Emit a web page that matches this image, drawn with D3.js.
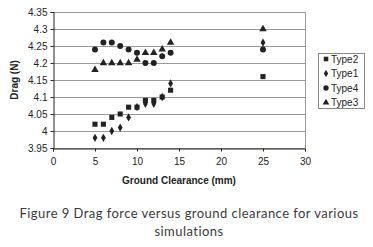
<!DOCTYPE html>
<html lang="en">
<head>
  <meta charset="UTF-8">
  <title>Drag force versus ground clearance</title>
  <style>
    body { margin: 0; background: #fff; }
    svg { display: block; }
    .tick text { font-family: Arial, "Liberation Sans", sans-serif; font-size: 10px; fill: #222; }
    .title { font-family: Arial, "Liberation Sans", sans-serif; font-size: 10px; font-weight: bold; fill: #222; }
    .legend text { font-family: Arial, "Liberation Sans", sans-serif; font-size: 10px; fill: #222; }
    .caption { font-family: Lato, sans-serif; font-size: 13px; letter-spacing: 0.45px; fill: #3a3a3a; }
  </style>
</head>
<body>
  <svg id="chart" width="373" height="247"></svg>
  <script src="https://d3js.org/d3.v7.min.js"></script>
  <script>
    const clearance = [5, 6, 7, 8, 9, 10, 11, 12, 13, 14, 25]
    const type2 = [4.02, 4.02, 4.04, 4.05, 4.07, 4.07, 4.09, 4.09, 4.10, 4.12, 4.16]
    const type1 = [3.98, 3.98, 4.00, 4.01, 4.04, 4.07, 4.08, 4.08, 4.10, 4.14, 4.26]
    const type4 = [4.24, 4.26, 4.26, 4.25, 4.24, 4.23, 4.20, 4.20, 4.22, 4.23, 4.24]
    const type3 = [4.18, 4.20, 4.20, 4.20, 4.20, 4.21, 4.23, 4.23, 4.24, 4.26, 4.30]
    const xTicks = [0, 5, 10, 15, 20, 25, 30]
    const yTicks = [3.95, 4, 4.05, 4.1, 4.15, 4.2, 4.25, 4.3, 4.35]

    const series = [
      { name: 'Type2', values: type2, symbol: d3.symbolSquare, size: 26 },
      { name: 'Type1', values: type1, symbol: d3.symbolDiamond, size: 20 },
      { name: 'Type4', values: type4, symbol: d3.symbolCircle, size: 28 },
      { name: 'Type3', values: type3, symbol: d3.symbolTriangle, size: 24 }
    ]

    const svg = d3.select('#chart')
    const plot = { left: 53, right: 305, top: 12, bottom: 148 }

    const x = d3.scaleLinear().domain([0, 30]).range([plot.left, plot.right])
    const y = d3.scaleLinear().domain([3.95, 4.35]).range([plot.bottom, plot.top])

    // gridlines
    svg.append('g')
      .selectAll('line')
      .data(yTicks)
      .enter()
      .append('line')
      .attr('x1', plot.left)
      .attr('x2', plot.right)
      .attr('y1', d => Math.round(y(d)) + 0.5)
      .attr('y2', d => Math.round(y(d)) + 0.5)
      .attr('stroke', '#999')

    svg.append('line')
      .attr('x1', plot.right + 0.5).attr('x2', plot.right + 0.5)
      .attr('y1', plot.top).attr('y2', plot.bottom)
      .attr('stroke', '#999')

    const yAxis = svg.append('g')
      .attr('transform', `translate(${plot.left + 0.5},0)`)
      .call(d3.axisLeft(y).tickValues(yTicks).tickSize(3).tickFormat(d3.format('')))
    yAxis.select('.domain').attr('stroke', '#222')
    yAxis.selectAll('.tick line').attr('stroke', '#222')
    yAxis.selectAll('.tick text').attr('x', -6)

    const xAxis = svg.append('g')
      .attr('transform', `translate(0,${plot.bottom + 0.5})`)
      .call(d3.axisBottom(x).tickValues(xTicks).tickSize(3).tickFormat(d3.format('d')))
    xAxis.select('.domain').attr('stroke', '#222')
    xAxis.selectAll('.tick line').attr('stroke', '#222')
    xAxis.selectAll('.tick text').attr('y', 9)

    svg.append('text')
      .attr('class', 'title')
      .attr('x', (plot.left + plot.right) / 2)
      .attr('y', 184)
      .attr('text-anchor', 'middle')
      .text('Ground Clearance (mm)')

    svg.append('text')
      .attr('class', 'title')
      .attr('transform', `translate(18,${(plot.top + plot.bottom) / 2}) rotate(-90)`)
      .attr('text-anchor', 'middle')
      .text('Drag (N)')

    // markers
    series.forEach(s => {
      svg.append('g')
        .selectAll('path')
        .data(s.values)
        .enter()
        .append('path')
        .attr('transform', (d, i) => `translate(${x(clearance[i])},${y(d)})`)
        .attr('d', d3.symbol().type(s.symbol).size(s.size))
        .attr('fill', '#222')
    })

    // legend
    const legend = svg.append('g').attr('class', 'legend')
    legend.append('rect')
      .attr('x', 318.5).attr('y', 53.5)
      .attr('width', 46).attr('height', 55)
      .attr('fill', '#fff').attr('stroke', '#888')

    const item = legend.selectAll('.item')
      .data(series)
      .enter()
      .append('g')
      .attr('transform', (d, i) => `translate(326,${59 + i * 14.5})`)
    item.append('path')
      .attr('d', d => d3.symbol().type(d.symbol).size(d.size * 0.8)())
      .attr('fill', '#222')
    item.append('text')
      .attr('x', 5)
      .attr('y', 3.5)
      .text(d => d.name)

    svg.append('text')
      .attr('class', 'caption')
      .attr('x', 189)
      .attr('y', 218)
      .attr('text-anchor', 'middle')
      .text('Figure 9 Drag force versus ground clearance for various')
    svg.append('text')
      .attr('class', 'caption')
      .attr('x', 189)
      .attr('y', 236)
      .attr('text-anchor', 'middle')
      .text('simulations')
  </script>
</body>
</html>
